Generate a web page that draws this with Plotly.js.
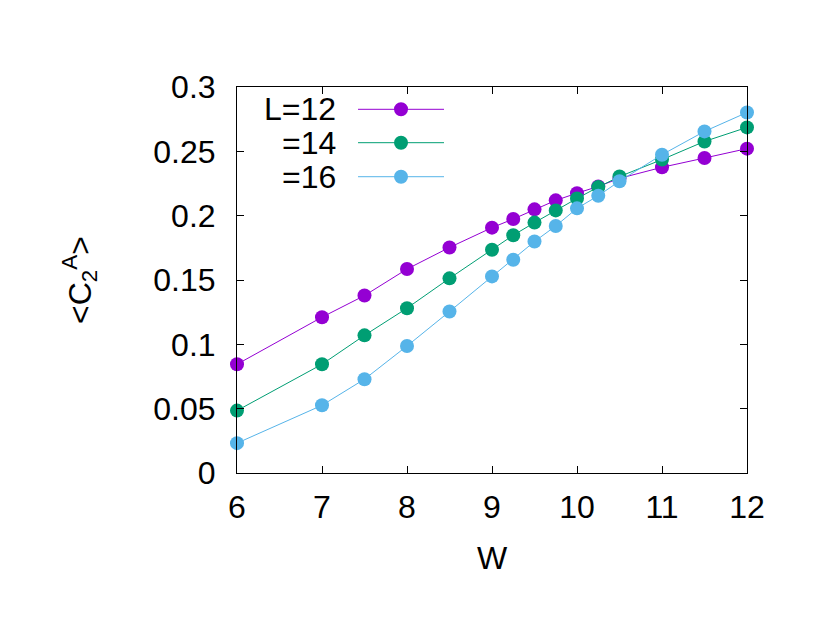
<!DOCTYPE html>
<html>
<head>
<meta charset="utf-8">
<script src="https://cdn.plot.ly/plotly-3.0.1.min.js"></script>
<style>html,body{margin:0;padding:0;background:#fff;}#plot{width:830px;height:642px;}</style>
</head>
<body>
<div id="plot"></div>
<script>
const W = [6, 7, 7.5, 8, 8.5, 9, 9.25, 9.5, 9.75, 10, 10.25, 10.5, 11, 11.5, 12];
const C_L12 = [0.0845, 0.1211, 0.1379, 0.1585, 0.1753, 0.1907, 0.1974, 0.2049, 0.2119, 0.2175, 0.2227, 0.2290, 0.2376, 0.2448, 0.2521];
const C_L14 = [0.0485, 0.0845, 0.1070, 0.1281, 0.1513, 0.1735, 0.1848, 0.1946, 0.2041, 0.2134, 0.2222, 0.2304, 0.2436, 0.2577, 0.2686];
const C_L16 = [0.0232, 0.0526, 0.0729, 0.0987, 0.1255, 0.1528, 0.1657, 0.1799, 0.1920, 0.2057, 0.2155, 0.2268, 0.2474, 0.2655, 0.2802];
const legendLabels = ["L=12", "=14", "=16"];
const colors = ["#9400d3", "#009e73", "#56b4e9"];
const series = [C_L12, C_L14, C_L16];
const xTicks = [6, 7, 8, 9, 10, 11, 12];
const yTicks = [0, 0.05, 0.1, 0.15, 0.2, 0.25, 0.3];
const yTickText = ["0", "0.05", "0.1", "0.15", "0.2", "0.25", "0.3"];

const FONT = "Liberation Sans, Arial, sans-serif";
const FS = 32;
const traces = series.map((ys, i) => ({
  x: W, y: ys, type: "scatter", mode: "lines+markers",
  name: legendLabels[i], showlegend: false, cliponaxis: false,
  line: {color: colors[i], width: 1},
  marker: {color: colors[i], size: 14, symbol: "circle"}
}));

const legendRowsY = [0.9422, 0.8557, 0.7676];
const shapes = [];
const annotations = [];
legendRowsY.forEach((yy, i) => {
  shapes.push({type: "line", xref: "paper", yref: "paper", x0: 0.2373, x1: 0.4059, y0: yy, y1: yy,
    line: {color: colors[i], width: 1}});
  shapes.push({type: "circle", xref: "paper", yref: "paper", xsizemode: "pixel", ysizemode: "pixel",
    xanchor: 0.3216, yanchor: yy, x0: -7, x1: 7, y0: -7, y1: 7,
    fillcolor: colors[i], line: {width: 0}});
  annotations.push({xref: "paper", yref: "paper", x: 0.196, y: yy, xanchor: "right", yanchor: "middle",
    text: legendLabels[i], showarrow: false, borderpad: 0, font: {family: FONT, size: FS, color: "#000"}});
});

const layout = {
  width: 830, height: 642,
  margin: {l: 237, r: 83, t: 87, b: 169},
  paper_bgcolor: "#fff", plot_bgcolor: "#fff",
  font: {family: FONT, size: FS, color: "#000"},
  showlegend: false,
  xaxis: {
    range: [6, 12], tickvals: xTicks, ticks: "inside", ticklen: 7, tickcolor: "#000",
    showline: true, linecolor: "#000", linewidth: 1, mirror: "ticks", showgrid: false, zeroline: false,
    tickfont: {family: FONT, size: FS}, ticklabelstandoff: 6,
    title: {text: "W", font: {family: FONT, size: FS}, standoff: 22}
  },
  yaxis: {
    range: [0, 0.3], tickvals: yTicks, ticktext: yTickText, ticks: "inside", ticklen: 7, tickcolor: "#000",
    showline: true, linecolor: "#000", linewidth: 1, mirror: "ticks", showgrid: false, zeroline: false,
    tickfont: {family: FONT, size: FS}, ticklabelstandoff: 14,
    title: {text: "&lt;C<sub>2</sub><sup>A</sup>&gt;", font: {family: FONT, size: FS}, standoff: 52}
  },
  shapes: shapes,
  annotations: annotations
};

Plotly.newPlot("plot", traces, layout, {displayModeBar: false, staticPlot: true});
</script>
</body>
</html>
